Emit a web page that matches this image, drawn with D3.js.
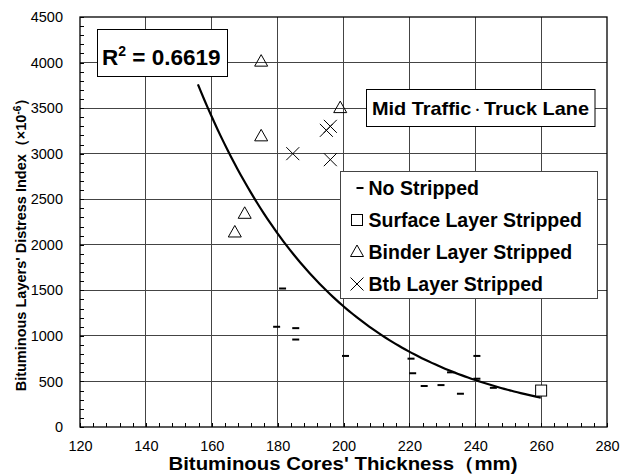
<!DOCTYPE html>
<meta charset="utf-8">
<head>
  <title>Distress index vs thickness</title>
</head>
<style>
body { margin: 0; background: #fff; font-family: "Liberation Sans", Arial, sans-serif; }
svg text { font-family: "Liberation Sans", Arial, sans-serif; }
</style>
<body>
<svg id="chart" width="622" height="475"></svg>
<script src="https://cdnjs.cloudflare.com/ajax/libs/d3/7.8.5/d3.min.js"></script>
<script>

// tick values
var xTicks = [120, 140, 160, 180, 200, 220, 240, 260, 280];
var yTicks = [0, 500, 1000, 1500, 2000, 2500, 3000, 3500, 4000, 4500];

// thickness (mm), distress index
var noStripped = [[181.5, 1520], [179.7, 1100], [185.5, 1085], [185.5, 960], [200.6, 780],
  [220.5, 750], [221, 590], [224.5, 450], [229.6, 460], [232.5, 600], [235.5, 365],
  [240.5, 780], [240.5, 530], [245.5, 430]];
var surfaceStripped = [[260, 400]];
var binderStripped = [[175, 4010], [175, 3190], [170, 2340], [167, 2135], [199, 3500]];
var btbStripped = [[184.6, 3000], [194.8, 3256], [196, 3300], [196, 2934]];

// exponential trendline: y = a * exp(b * x)
var fitA = 148600, fitB = -0.0236;
var fitRange = [155.8, 259.9];

var legendLabels = ['No Stripped', 'Surface Layer Stripped', 'Binder Layer Stripped', 'Btb Layer Stripped'];

var svg = d3.select('#chart');
var x = d3.scaleLinear().domain([120, 280]).range([80, 607]);
var y = d3.scaleLinear().domain([0, 4500]).range([427, 17]);

// gridlines
svg.append('g').selectAll('line').data(xTicks.slice(1, -1)).enter().append('line')
  .attr('x1', d => x(d)).attr('x2', d => x(d))
  .attr('y1', y(0)).attr('y2', y(4500))
  .attr('stroke', '#444').attr('shape-rendering', 'crispEdges');
svg.append('g').selectAll('line').data(yTicks.slice(1, -1)).enter().append('line')
  .attr('x1', x(120)).attr('x2', x(280))
  .attr('y1', d => y(d)).attr('y2', d => y(d))
  .attr('stroke', '#444').attr('shape-rendering', 'crispEdges');

// minor ticks inside the frame
var xMinor = d3.range(120, 281, 4);
var yMinor = d3.range(0, 4501, 100);
svg.append('g').attr('transform', 'translate(0,' + y(0) + ')')
  .call(d3.axisBottom(x).tickValues(xMinor).tickSize(-4).tickFormat(''))
  .call(g => g.select('.domain').remove())
  .selectAll('line').attr('shape-rendering', 'crispEdges');
svg.append('g').attr('transform', 'translate(' + x(120) + ',0)')
  .call(d3.axisLeft(y).tickValues(yMinor).tickSize(-4).tickFormat(''))
  .call(g => g.select('.domain').remove())
  .selectAll('line').attr('shape-rendering', 'crispEdges');

// tick labels
var xAxis = svg.append('g').attr('transform', 'translate(0,' + y(0) + ')')
  .call(d3.axisBottom(x).tickValues(xTicks).tickSize(0).tickPadding(14).tickFormat(d3.format('d')));
xAxis.select('.domain').remove();
xAxis.selectAll('text').attr('font-size', '14.5px').attr('fill', '#000')
  .attr('font-family', '"Liberation Sans", Arial, sans-serif');
var yAxis = svg.append('g').attr('transform', 'translate(' + x(120) + ',0)')
  .call(d3.axisLeft(y).tickValues(yTicks).tickSize(0).tickPadding(17).tickFormat(d3.format('d')));
yAxis.select('.domain').remove();
yAxis.selectAll('text').attr('font-size', '14.5px').attr('fill', '#000')
  .attr('font-family', '"Liberation Sans", Arial, sans-serif');

// frame
svg.append('rect').attr('x', x(120)).attr('y', y(4500))
  .attr('width', x(280) - x(120)).attr('height', y(0) - y(4500))
  .attr('fill', 'none').attr('stroke', '#000').attr('stroke-width', 1.3);

// trendline
var fitPts = d3.range(fitRange[0], fitRange[1], 1).concat([fitRange[1]])
  .map(t => [t, fitA * Math.exp(fitB * t)]);
svg.append('path').datum(fitPts)
  .attr('d', d3.line().x(d => x(d[0])).y(d => y(d[1])).curve(d3.curveMonotoneX))
  .attr('fill', 'none').attr('stroke', '#000').attr('stroke-width', 2.2);

// markers
function dash(g) {
  g.append('line').attr('x1', -3.5).attr('x2', 3.5).attr('y1', 0).attr('y2', 0)
    .attr('stroke', '#000').attr('stroke-width', 2);
}
function square(g) {
  g.append('rect').attr('x', -5.5).attr('y', -5.5).attr('width', 11).attr('height', 11)
    .attr('fill', '#fff').attr('stroke', '#000').attr('stroke-width', 1);
}
function triangle(g) {
  g.append('path').attr('d', 'M0,-7L6.5,4.5L-6.5,4.5Z')
    .attr('fill', 'none').attr('stroke', '#000').attr('stroke-width', 1);
}
function cross(g) {
  g.append('path').attr('d', 'M-6.5,-6.5L6.5,6.5M-6.5,6.5L6.5,-6.5')
    .attr('fill', 'none').attr('stroke', '#000').attr('stroke-width', 1);
}
var groups = [[noStripped, dash], [surfaceStripped, square], [binderStripped, triangle], [btbStripped, cross]];
groups.forEach(function(s) {
  svg.append('g').selectAll('g').data(s[0]).enter().append('g')
    .attr('transform', d => 'translate(' + x(d[0]) + ',' + y(d[1]) + ')')
    .each(function() { s[1](d3.select(this)); });
});

// R squared box
svg.append('rect').attr('x', 97.5).attr('y', 29.5).attr('width', 130).attr('height', 47)
  .attr('fill', '#fff').attr('stroke', '#000');
var r2 = svg.append('text').attr('x', 102).attr('y', 64.5)
  .attr('font-size', '22.5px').attr('font-weight', 'bold');
r2.append('tspan').text('R');
r2.append('tspan').attr('dy', -9).attr('font-size', '14px').text('2');
r2.append('tspan').attr('dy', 9).text(' = 0.6619');

// traffic box
svg.append('rect').attr('x', 366.5).attr('y', 89.5).attr('width', 228.5).attr('height', 37)
  .attr('fill', '#fff').attr('stroke', '#000');
var tt = svg.append('text').attr('x', 372).attr('y', 114.5)
  .attr('font-size', '19px').attr('font-weight', 'bold')
  .attr('textLength', 217).attr('lengthAdjust', 'spacingAndGlyphs');
tt.append('tspan').text('Mid Traffic');
tt.append('tspan').attr('font-size', '12px').attr('dy', -1).text('・');
tt.append('tspan').attr('dy', 1).text('Truck Lane');

// legend
svg.append('rect').attr('x', 340.5).attr('y', 171.5).attr('width', 257).attr('height', 127)
  .attr('fill', '#fff').attr('stroke', '#444');
var legendMarks = [dash, square, triangle, cross];
legendLabels.forEach(function(lab, i) {
  var ly = 188 + i * 32;
  var mg = svg.append('g').attr('transform', 'translate(' + (i === 0 ? 360 : 357) + ',' + ly + ')');
  legendMarks[i](mg);
  svg.append('text').attr('x', 368.5).attr('y', ly + 7)
    .attr('font-size', '19.5px').attr('font-weight', 'bold').text(lab);
});

// axis titles
svg.append('text').attr('x', 343).attr('y', 470).attr('text-anchor', 'middle')
  .attr('font-size', '18px').attr('font-weight', 'bold')
  .attr('textLength', 349).attr('lengthAdjust', 'spacingAndGlyphs')
  .text("Bituminous Cores' Thickness（mm)");

var yt = svg.append('text').attr('transform', 'translate(26,241) rotate(-90)')
  .attr('text-anchor', 'middle').attr('font-size', '14.5px').attr('font-weight', 'bold');
yt.append('tspan').text("Bituminous Layers' Distress Index（×10");
yt.append('tspan').attr('dy', -5).attr('font-size', '10px').text('-6');
yt.append('tspan').attr('dy', 5).text('）');

</script>
</body>
</html>
